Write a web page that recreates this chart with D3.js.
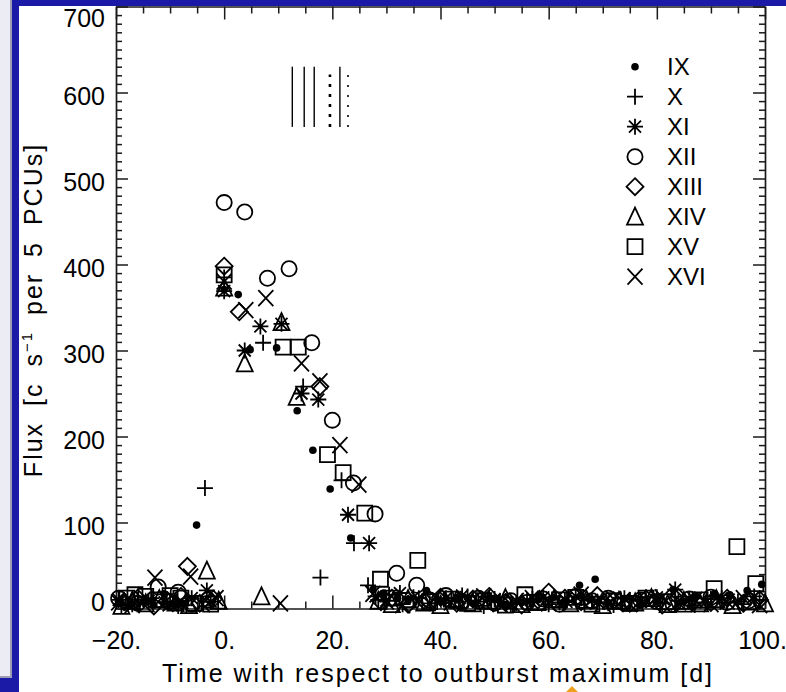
<!DOCTYPE html>
<html>
<head>
<meta charset="utf-8">
<script src="https://cdn.jsdelivr.net/npm/d3@7"></script>
<style>
  html, body { margin: 0; padding: 0; background: #ffffff; }
  svg { display: block; }
  text { font-family: "Liberation Sans", Arial, Helvetica, sans-serif; fill: #000; }
</style>
</head>
<body>
<svg id="chart" width="786" height="692"></svg>
<script>
// ---------------- DATA ----------------
const seriesNames = ["IX", "X", "XI", "XII", "XIII", "XIV", "XV", "XVI"];
const seriesSymbols = ["dot", "plus", "asterisk", "circle", "diamond", "triangle", "square", "cross"];

// [days relative to outburst maximum, flux c/s per 5 PCUs]
const outburstIX = [
  [-19.2,6],[-17.5,3],[-15,8],[-13,4],[-11.1,17],[-9.5,5],[-7.9,6],[-5.1,97],
  [0,371],[2.6,365],[4.8,301],[9.7,303],[13.5,230],[16.4,184],[19.6,139],[23.4,82],
  [27.5,22],[29.5,18],[32,12],[34,9],[37.4,21],[40,8],[43,10],[46,6],[49,12],[52,4],
  [55,7],[58,10],[61,13],[63,9],[65.7,27],[68.6,34],[71,7],[74,11],[77,5],[80,9],
  [83,22],[85,8],[87.4,14],[90.7,17],[93.5,16],[96.7,21],[99.4,28]
];
const outburstX = [
  [-19,4],[-16,10],[-13.5,12],[-10,8],[-7,4],[-3.55,140],
  [0,385],[7.2,309],[14.6,258],[17.8,36],[21.7,149],[24.0,76],[26.6,27],
  [28.5,10],[30.5,16],[33,5],[36,12],[39,6],[42,9],[45,14],[48,3],[51,8],[54,6],
  [57,11],[60,5],[63,9],[66,12],[69,7],[72,4],[75,10],[78,13],[81,6],[84,9],[87,4],
  [90,11],[93,7],[96,5],[99,10]
];
const outburstXI = [
  [-19.5,10],[-17,5],[-14,9],[-11,7],[-8.5,3],[-6,12],[-3.2,21],[-2.5,8],
  [0,369],[3.8,300],[6.7,328],[10.6,331],[14.3,250],[17.4,243],[22.9,109],[26.8,76],
  [28,14],[30,9],[32.5,18],[35,13],[38,6],[41,12],[44,15],[47,8],[50,11],[53,5],
  [56,9],[59,13],[62,7],[65,14],[68,10],[71,6],[74,12],[77,9],[80,13],[83.4,22],
  [86,10],[89,7],[92,12],[95,8],[98,14]
];
const outburstXII = [
  [-19.5,12],[-16,6],[-12.2,25],[-10,8],[-8.5,19],[-6,5],[-3,10],
  [0,472],[3.8,461],[8.0,384],[12.0,395],[16.2,309],[20.0,219],[23.9,146],[27.9,110],
  [31.9,41],[35.6,27],[38,10],[41,15],[44,8],[47,12],[50,6],[53,9],[56,7],[59,11],
  [62,5],[65,14],[68,9],[71,12],[74,6],[77,10],[80,8],[83,5],[86,11],[90,13],[93,7],[97,9]
];
const outburstXIII = [
  [-18.5,8],[-16,12],[-13,3],[-10.5,9],[-8,14],[-6.8,49],[-4.5,6],[-2,11],
  [0,398],[2.8,345],[17.7,258],
  [29,8],[31,12],[34,5],[37,9],[40,13],[43,6],[46,11],[49,14],[52,7],[55,4],[58,10],
  [60,19],[63,12],[66,8],[69,15],[72,9],[75,6],[78,11],[81,4],[84,13],[87,9],[90,7],
  [93,12],[96,6],[99,10]
];
const outburstXIV = [
  [-19,3],[-17,9],[-14.5,6],[-12,11],[-9,7],[-6.5,4],[-3.2,44],[-1,9],
  [0,373],[3.8,285],[6.9,14],[10.6,333],[13.4,246],
  [28.5,9],[31,5],[34,11],[37,7],[40,4],[43,10],[46,6],[49,9],[52,12],[55,5],[58,8],
  [61,11],[64,6],[67,10],[70,4],[73,9],[76,7],[79,12],[82,5],[85,9],[88,6],[91,11],
  [94,4],[97,8],[100,6]
];
const outburstXV = [
  [-18,12],[-16.5,16],[-14.5,14],[-12,10],[-10,15],[-8,12],[-5.5,6],[-2.5,5],
  [0,388],[10.9,304],[13.7,304],[19.1,179],[22.0,158],[26.0,111],
  [28.9,34],[31,12],[35.8,56],[38,8],[42,11],[45,6],[48,9],[52,4],[55.6,16],[58,7],
  [62,10],[65,13],[68,5],[72,9],[75,6],[78,12],[82,8],[85,5],[88,10],[90.6,23],
  [94.8,72],[98.3,29]
];
const outburstXVI = [
  [-19.5,7],[-17,4],[-15,10],[-12.8,36],[-10,6],[-8,9],[-6.2,37],[-4,5],[-1.5,12],
  [0,380],[4.0,347],[7.7,361],[10.4,6],[14.3,285],[17.7,264],[21.4,190],[24.9,144],
  [27.5,17],[30,8],[33,4],[36,10],[39,13],[42,7],[45,11],[48,14],[51,5],[54,9],
  [57,12],[60,6],[63,10],[66,16],[69,8],[72,11],[75,5],[78,9],[81,13],[84,7],[87,10],
  [90,5],[93,8],[96,12],[99,4]
];
const seriesData = [outburstIX, outburstX, outburstXI, outburstXII, outburstXIII, outburstXIV, outburstXV, outburstXVI];

// vertical marker lines (days) and their flux extent
const markerDays = [12.6, 14.8, 16.65, 19.56, 21.4, 22.9];
const markerFluxSolid = [560, 630];
const markerFluxDotted = [560, 621];

const xMajorTicks = [-20, 0, 20, 40, 60, 80, 100];
const xTickLabels = ["\u221220.", "0.", "20.", "40.", "60.", "80.", "100."];
const yMajorTicks = [0, 100, 200, 300, 400, 500, 600, 700];
const yTickLabels = ["0", "100", "200", "300", "400", "500", "600", "700"];

// ---------------- STYLE / LAYOUT ----------------
const markerStyle = ["solid", "solid", "solid", "dotA", "solid", "dotB"];
const W = 786, H = 692;
const padL = 116, padR = 765, padT = 6.5, padB = 608.5;
const FS = 25;
const svg = d3.select("#chart");

// background frame (slide)
const blue = "#1a1aa6";
svg.append("rect").attr("x", 0).attr("y", 0).attr("width", W).attr("height", H).attr("fill", "#ffffff");
svg.append("rect").attr("x", 0).attr("y", 0).attr("width", 11).attr("height", 677).attr("fill", "#ececf4");
svg.append("rect").attr("x", 10).attr("y", 0).attr("width", 2).attr("height", 678).attr("fill", "#9c9cb4");
svg.append("rect").attr("x", 0).attr("y", 676).attr("width", 12).attr("height", 2).attr("fill", "#9c9cb4");
svg.append("rect").attr("x", 0).attr("y", 678).attr("width", 19).attr("height", 14).attr("fill", blue);
svg.append("rect").attr("x", 12).attr("y", 0).attr("width", 7).attr("height", H).attr("fill", blue);

const x = d3.scaleLinear().domain([-20, 100]).range([padL, padR]);
const y = d3.scaleLinear().domain([0, 700]).range([padB, padT]);

const axisColor = "#1a1a1a";
const axisW = 1.7;
const xMinor = d3.range(-20, 100.001, 5).filter(v => !xMajorTicks.includes(v));
const yMinor = d3.range(0, 700.001, 10).filter(v => !yMajorTicks.includes(v));

function styleAxis(g) {
  g.selectAll("path.domain").attr("stroke", axisColor).attr("stroke-width", axisW);
  g.selectAll(".tick line").attr("stroke", axisColor).attr("stroke-width", 1.5);
}

// bottom axis
const gB = svg.append("g").attr("transform", `translate(0,${padB})`)
  .call(d3.axisBottom(x).tickValues(xMajorTicks).tickSize(-13).tickSizeOuter(0).tickPadding(23)
        .tickFormat((d, i) => xTickLabels[i]));
styleAxis(gB);
gB.selectAll("text").attr("font-size", FS).attr("font-family", "Liberation Sans, Arial, sans-serif").attr("fill", "#000")
  .attr("dx", d => d === 100 ? -3 : 0);
svg.append("g").attr("transform", `translate(0,${padB})`)
  .call(d3.axisBottom(x).tickValues(xMinor).tickSize(-7).tickSizeOuter(0).tickFormat(""))
  .call(g => { g.select("path.domain").remove(); styleAxis(g); });

// top axis
const gT = svg.append("g").attr("transform", `translate(0,${padT})`)
  .call(d3.axisTop(x).tickValues(xMajorTicks).tickSize(-13).tickSizeOuter(0).tickFormat(""));
styleAxis(gT);
svg.append("g").attr("transform", `translate(0,${padT})`)
  .call(d3.axisTop(x).tickValues(xMinor).tickSize(-7).tickSizeOuter(0).tickFormat(""))
  .call(g => { g.select("path.domain").remove(); styleAxis(g); });

// left axis
const gL = svg.append("g").attr("transform", `translate(${padL},0)`)
  .call(d3.axisLeft(y).tickValues(yMajorTicks).tickSize(-12).tickSizeOuter(0).tickPadding(11)
        .tickFormat((d, i) => yTickLabels[i]));
styleAxis(gL);
gL.selectAll("text").attr("font-size", FS).attr("font-family", "Liberation Sans, Arial, sans-serif").attr("fill", "#000")
  .attr("dy", d => d === 700 ? "0.78em" : (d === 0 ? "0.08em" : "0.46em"));
svg.append("g").attr("transform", `translate(${padL},0)`)
  .call(d3.axisLeft(y).tickValues(yMinor).tickSize(-6).tickSizeOuter(0).tickFormat(""))
  .call(g => { g.select("path.domain").remove(); styleAxis(g); });

// right axis
const gR = svg.append("g").attr("transform", `translate(${padR},0)`)
  .call(d3.axisRight(y).tickValues(yMajorTicks).tickSize(-12).tickSizeOuter(0).tickFormat(""));
styleAxis(gR);
svg.append("g").attr("transform", `translate(${padR},0)`)
  .call(d3.axisRight(y).tickValues(yMinor).tickSize(-6).tickSizeOuter(0).tickFormat(""))
  .call(g => { g.select("path.domain").remove(); styleAxis(g); });

// top band of the slide frame sits over the top axis line
svg.append("rect").attr("x", 12).attr("y", 0).attr("width", W - 12).attr("height", 6).attr("fill", blue);

// axis titles
svg.append("text").attr("x", 438).attr("y", 682).attr("text-anchor", "middle")
  .attr("font-size", FS).attr("letter-spacing", 2)
  .text("Time with respect to outburst maximum [d]");

const yt = svg.append("text").attr("transform", "translate(42,310) rotate(-90)")
  .attr("text-anchor", "middle").attr("font-size", FS).attr("letter-spacing", 2).attr("word-spacing", 7);
yt.append("tspan").text("Flux [c s");
yt.append("tspan").attr("font-size", 15).attr("dy", -10).text("\u22121");
yt.append("tspan").attr("dy", 10).text(" per 5 PCUs]");

// symbol paths
const symbolPath = {
  plus: "M-8,0H8M0,-8V8",
  asterisk: "M-8,0H8M0,-8V8M-6,-6L6,6M-6,6L6,-6",
  diamond: "M0,-8.5L8.5,0L0,8.5L-8.5,0Z",
  triangle: "M0,-9L8,8H-8Z",
  square: "M-7.5,-7.5h15v15h-15Z",
  cross: "M-7.5,-8L7.5,8M-7.5,8L7.5,-8"
};
function drawSymbol(g, type) {
  if (type === "dot") {
    g.append("circle").attr("r", 3.8).attr("fill", "#000");
  } else if (type === "circle") {
    g.append("circle").attr("r", 7.6).attr("fill", "none").attr("stroke", "#000").attr("stroke-width", 1.8);
  } else {
    g.append("path").attr("d", symbolPath[type]).attr("fill", "none")
      .attr("stroke", "#000").attr("stroke-width", 1.8);
  }
}

// plot points
const plot = svg.append("g");
seriesData.forEach((data, si) => {
  plot.selectAll(null).data(data).enter().append("g")
    .attr("transform", d => `translate(${x(d[0])},${y(d[1])})`)
    .each(function () { drawSymbol(d3.select(this), seriesSymbols[si]); });
});

// vertical marker lines
markerDays.forEach((d, i) => {
  const st = markerStyle[i];
  const ext = st === "solid" ? markerFluxSolid : markerFluxDotted;
  const ln = svg.append("line").attr("x1", x(d)).attr("x2", x(d))
    .attr("y1", y(ext[0])).attr("y2", y(ext[1])).attr("stroke", "#000");
  if (st === "solid") ln.attr("stroke-width", 1.4);
  if (st === "dotA") ln.attr("stroke-width", 2.6).attr("stroke-dasharray", "3,7");
  if (st === "dotB") ln.attr("stroke-width", 1.6).attr("stroke-dasharray", "2,8");
});

// legend
const legend = svg.append("g");
seriesNames.forEach((name, i) => {
  const row = legend.append("g").attr("transform", `translate(635,${66.7 + i * 30})`);
  drawSymbol(row, seriesSymbols[i]);
  row.append("text").attr("x", 32).attr("y", 0).attr("dy", "0.36em")
    .attr("font-size", 24).text(name);
});

// small orange cursor marker at bottom edge (present in reference screenshot)
svg.append("path").attr("d", "M572,686L578,692L566,692Z").attr("fill", "#f0a020");
</script>
</body>
</html>
